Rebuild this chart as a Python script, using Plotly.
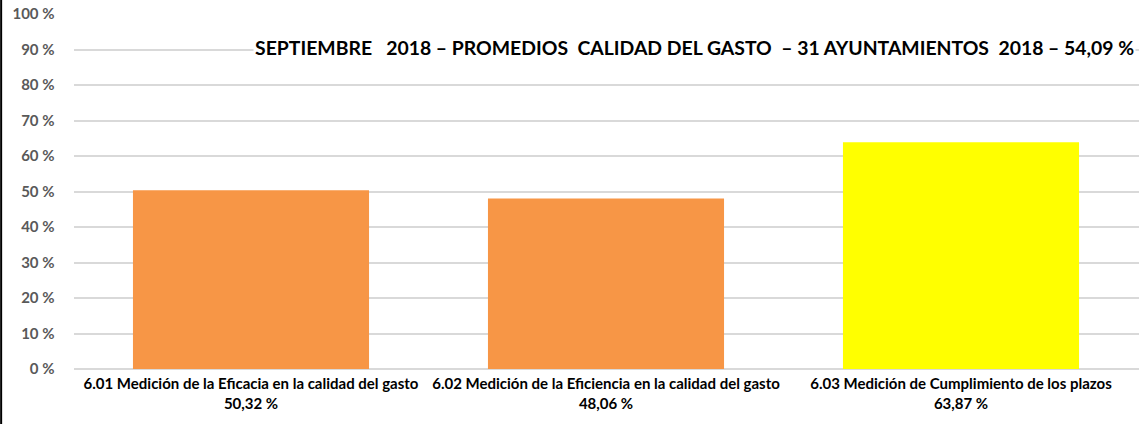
import plotly.graph_objects as go

W, H = 1144, 424

categories = [
    "6.01 Medición de la Eficacia en la calidad del gasto",
    "6.02 Medición de la Eficiencia en la calidad del gasto",
    "6.03 Medición de Cumplimiento de los plazos",
]
values = [50.32, 48.06, 63.87]
value_labels = ["50,32 %", "48,06 %", "63,87 %"]
bar_colors = ["#F79646", "#F79646", "#FFFF00"]
y_ticks = [0, 10, 20, 30, 40, 50, 60, 70, 80, 90, 100]
y_ticktext = [f"{v} %" for v in y_ticks]
title = "SEPTIEMBRE\u00a0\u00a0 2018 – PROMEDIOS\u00a0 CALIDAD DEL GASTO\u00a0 – 31 AYUNTAMIENTOS\u00a0 2018 – 54,09 %"

FONT = "Lato, Carlito, sans-serif"

x_labels = [f"{c}<br>{v}" for c, v in zip(categories, value_labels)]

fig = go.Figure(
    go.Bar(
        x=x_labels,
        y=values,
        marker=dict(color=bar_colors, line=dict(width=0)),
        hoverinfo="skip",
    )
)

# plot area in pixels -> paper fractions
x0, x1 = 73.5, 1138.5
y_top, y_bot = 14, 369

fig.update_layout(
    width=W,
    height=H,
    margin=dict(l=0, r=0, t=0, b=0, autoexpand=False),
    paper_bgcolor="white",
    plot_bgcolor="white",
    bargap=0.335,
    showlegend=False,
    font=dict(family=FONT),
    xaxis=dict(
        domain=[x0 / W, x1 / W],
        tickfont=dict(family=FONT, size=15, color="#000000", weight="bold"),
        showgrid=False,
        ticks="",
        showline=False,
        automargin=False,
        ticklabelstandoff=4,
    ),
    yaxis=dict(
        domain=[1 - y_bot / H, 1 - y_top / H],
        range=[0, 100],
        tickvals=y_ticks,
        ticktext=y_ticktext,
        tickfont=dict(family=FONT, size=15, color="#595959", weight="bold"),
        showgrid=True,
        gridcolor="#D9D9D9",
        gridwidth=1.5,
        zeroline=True,
        zerolinecolor="#D9D9D9",
        zerolinewidth=1.5,
        ticks="",
        ticklabelstandoff=18,
        automargin=False,
    ),
    annotations=[
        dict(
            text=title,
            xref="paper",
            yref="paper",
            x=694 / W,
            y=1 - 48 / H,
            xanchor="center",
            yanchor="middle",
            showarrow=False,
            bgcolor="white",
            font=dict(family=FONT, size=19.4, color="#000000", weight="bold"),
        )
    ],
    shapes=[
        dict(
            type="line",
            xref="paper",
            yref="paper",
            x0=0.001,
            x1=0.001,
            y0=0,
            y1=1,
            line=dict(color="black", width=2),
        )
    ],
)

fig.write_html(
    "out.html",
    config={"displayModeBar": False},
    post_script="document.body.style.margin='0';document.body.style.overflow='hidden';",
)
